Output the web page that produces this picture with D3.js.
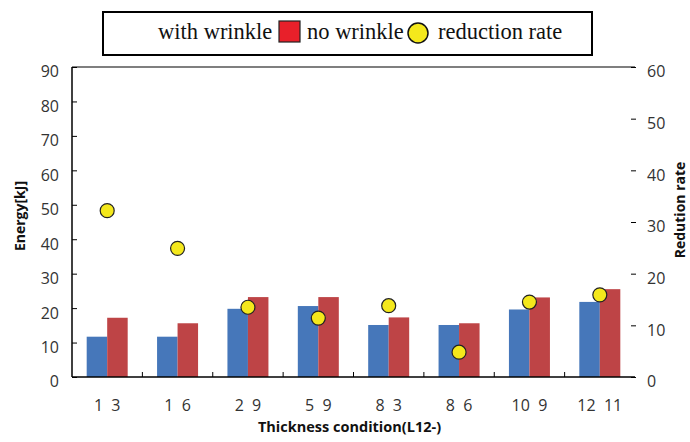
<!DOCTYPE html>
<html><head><meta charset="utf-8">
<script src="https://cdn.jsdelivr.net/npm/d3@7/dist/d3.min.js"></script>
<style>body{margin:0;background:#fff}svg{display:block}</style>
</head><body><svg id="c" width="690" height="442"></svg>
<script>
const categories = ["1  3","1  6","2  9","5  9","8  3","8  6","10  9","12  11"];
const withWrinkle = [11.7,11.7,19.8,20.6,15.1,15.1,19.6,21.8];
const noWrinkle   = [17.2,15.6,23.2,23.2,17.3,15.6,23.1,25.5];
const reductionRate = [32.2,24.9,13.5,11.4,13.8,4.8,14.5,15.9];
const leftTicks = [0,10,20,30,40,50,60,70,80,90];
const rightTicks = [0,10,20,30,40,50,60];

const svg = d3.select("#c");
const L=72,R=635,T=67,B=377;
const x = d3.scaleBand().domain(categories).range([L,R]);
const yL = d3.scaleLinear().domain([0,90]).range([B,T]);
const yR = d3.scaleLinear().domain([0,60]).range([B,T]);
const bw = 20.5;
const tickFont = "'Open Sans', 'Noto Sans', sans-serif";

// bars
svg.append("g").selectAll("rect").data(categories).join("rect")
  .attr("x",d=>x(d)+x.bandwidth()/2-bw).attr("width",bw)
  .attr("y",(d,i)=>yL(withWrinkle[i])).attr("height",(d,i)=>B-yL(withWrinkle[i]))
  .attr("fill","#4677BA");
svg.append("g").selectAll("rect").data(categories).join("rect")
  .attr("x",d=>x(d)+x.bandwidth()/2).attr("width",bw)
  .attr("y",(d,i)=>yL(noWrinkle[i])).attr("height",(d,i)=>B-yL(noWrinkle[i]))
  .attr("fill","#BE4446");

// frame lines
svg.append("line").attr("x1",L).attr("x2",L).attr("y1",T).attr("y2",B).attr("stroke","#000").attr("stroke-width",1.5);
svg.append("line").attr("x1",L).attr("x2",R).attr("y1",T).attr("y2",T).attr("stroke","#000").attr("stroke-width",1.2);
svg.append("line").attr("x1",L).attr("x2",R).attr("y1",B).attr("y2",B).attr("stroke","#000").attr("stroke-width",1.5);

// left axis
const ga = svg.append("g").attr("transform",`translate(${L},0)`)
  .call(d3.axisLeft(yL).tickValues(leftTicks).tickSize(-5).tickPadding(13));
ga.select(".domain").remove();
ga.selectAll("text").attr("font-family",tickFont).attr("font-size",16).attr("fill","#333").attr("dy","0.62em");
ga.selectAll("line").attr("stroke","#000");

// right axis
const gr = svg.append("g").attr("transform",`translate(631,0)`)
  .call(d3.axisRight(yR).tickValues(rightTicks).tickSize(5).tickPadding(11));
gr.select(".domain").remove();
gr.selectAll("text").attr("font-family",tickFont).attr("font-size",16).attr("fill","#333").attr("dy","0.62em");
gr.selectAll("line").attr("stroke","#000");

// bottom category ticks at boundaries
svg.append("g").selectAll("line").data(categories.slice(1)).join("line")
  .attr("x1",d=>x(d)).attr("x2",d=>x(d)).attr("y1",B).attr("y2",B-5).attr("stroke","#000");

const gb = svg.append("g").attr("transform",`translate(0,${B})`)
  .call(d3.axisBottom(x).tickSize(0).tickPadding(23));
gb.select(".domain").remove();
gb.selectAll("text").attr("font-family",tickFont).attr("font-size",16).attr("fill","#333").style("white-space","pre");

// dots
svg.append("g").selectAll("circle").data(categories).join("circle")
  .attr("cx",d=>x(d)+x.bandwidth()/2).attr("cy",(d,i)=>yR(reductionRate[i]))
  .attr("r",7).attr("fill","#F4E81C").attr("stroke","#222").attr("stroke-width",1.2);

// axis titles
svg.append("text").attr("x",(L+R)/2-4).attr("y",432).attr("text-anchor","middle")
  .attr("font-family",tickFont).attr("font-weight","bold").attr("font-size",14.5).attr("fill","#111")
  .text("Thickness condition(L12-)");
svg.append("text").attr("transform","translate(25,216) rotate(-90)").attr("text-anchor","middle")
  .attr("font-family",tickFont).attr("font-weight","bold").attr("font-size",14).attr("fill","#111")
  .text("Energy[kJ]");
svg.append("text").attr("transform","translate(685,210) rotate(-90)").attr("text-anchor","middle")
  .attr("font-family",tickFont).attr("font-weight","bold").attr("font-size",14).attr("fill","#111")
  .text("Redution rate");

// legend
const lg = svg.append("g");
lg.append("rect").attr("x",103).attr("y",12).attr("width",489).attr("height",43)
  .attr("fill","#fff").attr("stroke","#000").attr("stroke-width",2);
const serif = "'Liberation Serif','DejaVu Serif',serif";
lg.append("text").attr("x",158).attr("y",39).attr("font-family",serif).attr("font-size",22.5).attr("fill","#111").text("with wrinkle");
lg.append("rect").attr("x",279).attr("y",21).attr("width",21).attr("height",21).attr("fill","#E8202A").attr("stroke","#222").attr("stroke-width",1.2);
lg.append("text").attr("x",307).attr("y",39).attr("font-family",serif).attr("font-size",22.5).attr("fill","#111").text("no wrinkle");
lg.append("circle").attr("cx",418).attr("cy",33).attr("r",10).attr("fill","#F4E81C").attr("stroke","#111").attr("stroke-width",1.5);
lg.append("text").attr("x",438).attr("y",39).attr("font-family",serif).attr("font-size",22.5).attr("fill","#111").text("reduction rate");
</script></body></html>
